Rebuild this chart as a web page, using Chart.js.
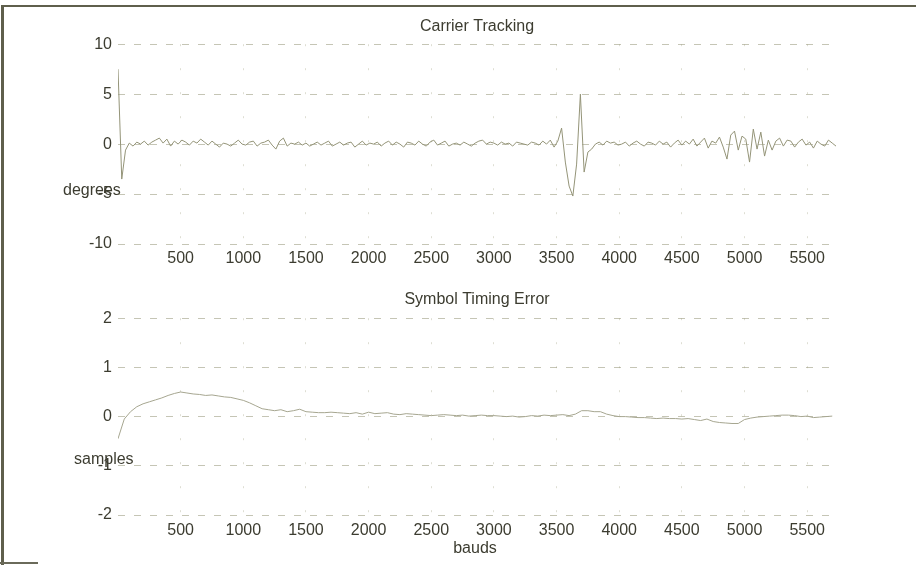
<!DOCTYPE html>
<html>
<head>
<meta charset="utf-8">
<script src="https://cdn.jsdelivr.net/npm/chart.js@4"></script>
<style>
  body { margin: 0; background: #fff; }
  #wrap { position: relative; width: 916px; height: 565px; overflow: hidden; background: #fff; }
  .pane { position: absolute; left: 0; }
  #frameTop { position: absolute; left: 2px; top: 5px; width: 914px; height: 2px; background: #5f5f4c; }
  #frameLeft { position: absolute; left: 1px; top: 5px; width: 3px; height: 560px; background: #5f5f4c; }
  #frameBot { position: absolute; left: 0; top: 562px; width: 38px; height: 2px; background: #6a6a5a; }
</style>
</head>
<body>
<div id="wrap">
  <canvas id="carrier" class="pane" width="916" height="282" style="top:0"></canvas>
  <canvas id="timing" class="pane" width="916" height="283" style="top:282px"></canvas>
  <div id="frameTop"></div>
  <div id="frameLeft"></div>
  <div id="frameBot"></div>
</div>
<script>
// === DATA ===
const X_TICKS = [500, 1000, 1500, 2000, 2500, 3000, 3500, 4000, 4500, 5000, 5500];
const X_MAX = 5730;

// carrier phase error (degrees), one reading every 30 bauds
const CARRIER_STEP = 30;
const carrierDeg = [
  7.5, -3.5, -0.6, 0.1, -0.2, 0.2, 0.0, 0.3, -0.1, 0.2,
  0.4, 0.6, 0.1, 0.5, -0.2, 0.3, 0.0, 0.4, 0.2, -0.1,
  0.3, 0.1, 0.5, 0.2, -0.1, 0.3, 0.0, -0.3, 0.1, 0.0,
  -0.2, 0.1, 0.4, 0.0, -0.1, 0.2, 0.3, -0.2, 0.1, 0.2,
  0.4, -0.1, -0.5, 0.3, 0.6, -0.2, 0.1, 0.0, 0.2, -0.1,
  0.1, -0.2, 0.0, 0.2, -0.1, 0.1, 0.3, -0.2, 0.0, 0.2,
  -0.1, 0.1, 0.2, -0.3, 0.0, 0.3, -0.1, 0.1, 0.0, 0.2,
  -0.2, 0.1, 0.3, -0.1, 0.2, 0.0, -0.3, 0.2, 0.1, -0.1,
  0.3, 0.0, -0.2, 0.2, 0.4, -0.1, 0.1, 0.3, -0.2, 0.0,
  0.1, -0.1, 0.2, 0.0, -0.2, 0.1, 0.3, 0.4, 0.0, 0.2,
  0.1, -0.1, 0.2, 0.0, 0.1, -0.2, 0.2, 0.1, 0.0, -0.1,
  0.2, 0.1, -0.1, 0.3, 0.0, 0.4, -0.3, 0.3, 1.6, -1.8,
  -4.2, -5.2, -2.0, 5.0, -2.8, -0.8, -0.5, 0.0, 0.2, -0.1,
  0.3, 0.1, 0.2, -0.1, 0.0, 0.2, -0.2, 0.1, 0.3, 0.0,
  -0.2, 0.2, 0.1, -0.1, 0.3, 0.0, 0.2, -0.3, 0.1, 0.4,
  -0.1, 0.3, 0.0, 0.5, -0.2, 0.2, 0.6, -0.4, 0.3, 0.1,
  0.7, -0.3, -1.5, 0.9, 1.3, -0.6, 0.8, 0.5, -1.8, 1.5,
  -0.5, 1.2, -1.2, 0.4, -0.6, 0.3, 0.6, -0.2, 0.4, 0.3,
  -0.3, 0.2, 0.5, -0.1, 0.2, -0.4, 0.3, 0.0, -0.2, 0.4,
  0.1, -0.2
];

// symbol timing error (samples), one reading every 50 bauds
const TIMING_STEP = 50;
const timingSamples = [
  -0.45, -0.05, 0.1, 0.2, 0.26, 0.3, 0.34, 0.38, 0.43, 0.47,
  0.5, 0.48, 0.46, 0.45, 0.43, 0.44, 0.42, 0.4, 0.39, 0.36,
  0.33, 0.28, 0.22, 0.16, 0.14, 0.12, 0.14, 0.1, 0.12, 0.15,
  0.1, 0.09, 0.08, 0.08, 0.09, 0.08, 0.07, 0.06, 0.08, 0.05,
  0.09, 0.06, 0.07, 0.08, 0.05, 0.04, 0.06, 0.05, 0.04, 0.03,
  0.02, 0.03, 0.04, 0.03, 0.02, 0.03, 0.01, 0.02, 0.03, 0.02,
  0.02, 0.01, 0.0, 0.01, -0.01, 0.0, 0.02, 0.01, 0.03, 0.02,
  0.03, 0.04, 0.02, 0.05, 0.12, 0.12, 0.1, 0.1, 0.05, 0.02,
  0.0, 0.0, -0.01, -0.02, -0.02, -0.03, -0.04, -0.03, -0.04, -0.04,
  -0.05, -0.04, -0.06, -0.08, -0.05, -0.1, -0.12, -0.13, -0.14, -0.14,
  -0.06, -0.03, -0.01, 0.0, 0.01, 0.02, 0.03, 0.03, 0.02, 0.0,
  0.01, -0.02, -0.01, 0.0, 0.01
];

const TEXT = '#3c3c30';
const TRACE = '#949478';
const GRID = 'rgba(150,150,120,0.55)';
const FONT = 'Arial, "Liberation Sans", sans-serif';

// fixed text labels drawn on the canvas (ylabel is horizontal like the original)
const labelPlugin = {
  id: 'labels',
  afterDraw(chart, args, opts) {
    const c = chart.ctx;
    c.save();
    c.fillStyle = TEXT;
    c.font = '16px ' + FONT;
    c.textBaseline = 'middle';
    opts.items.forEach(it => {
      c.textAlign = it.align || 'left';
      c.fillText(it.text, it.x, it.y);
    });
    c.restore();
  }
};

const makeChart = (id, cfg) => new Chart(document.getElementById(id), {
  type: 'line',
  data: {
    datasets: [{
      data: cfg.values.map((v, i) => ({ x: i * cfg.step, y: v })),
      borderColor: cfg.color, borderWidth: 1, pointRadius: 0, tension: 0
    }]
  },
  options: {
    responsive: false, animation: false, events: [],
    layout: { padding: { left: 0, right: 80, top: 0, bottom: 0 } },
    plugins: {
      legend: { display: false }, tooltip: { enabled: false },
      title: {
        display: true, text: cfg.title, fullSize: false, color: TEXT,
        font: { family: FONT, size: 16, weight: 'normal' }, padding: cfg.titlePad
      },
      labels: { items: cfg.labels }
    },
    scales: {
      x: {
        type: 'linear', min: 0, max: X_MAX,
        afterBuildTicks: s => { s.ticks = X_TICKS.map(v => ({ value: v })); },
        afterFit: s => { s.height = cfg.xHeight; },
        ticks: { color: TEXT, font: { family: FONT, size: 16 }, padding: cfg.xPad, maxRotation: 0, autoSkip: false, callback: v => String(v) },
        grid: { color: 'rgba(160,160,130,0.35)', drawTicks: false },
        border: { display: false, dash: [2, 22] }
      },
      y: {
        min: cfg.yMin, max: cfg.yMax,
        afterFit: s => { s.width = 118; },
        ticks: { stepSize: cfg.yStep, color: TEXT, font: { family: FONT, size: 16 }, padding: 6, callback: v => String(v) },
        grid: { color: GRID, drawTicks: false },
        border: { display: false, dash: [7, 9] }
      }
    }
  },
  plugins: [labelPlugin]
});

makeChart('carrier', {
  values: carrierDeg, step: CARRIER_STEP, color: TRACE,
  title: 'Carrier Tracking', titlePad: { top: 17, bottom: 8 },
  yMin: -10, yMax: 10, yStep: 5, xHeight: 38, xPad: 5,
  labels: [{ text: 'degrees', x: 63, y: 191 }]
});

makeChart('timing', {
  values: timingSamples, step: TIMING_STEP, color: '#a6a690',
  title: 'Symbol Timing Error', titlePad: { top: 8, bottom: 9 },
  yMin: -2, yMax: 2, yStep: 1, xHeight: 50, xPad: 6,
  labels: [
    { text: 'samples', x: 74, y: 178 },
    { text: 'bauds', x: 475, y: 267, align: 'center' }
  ]
});
</script>
</body>
</html>
